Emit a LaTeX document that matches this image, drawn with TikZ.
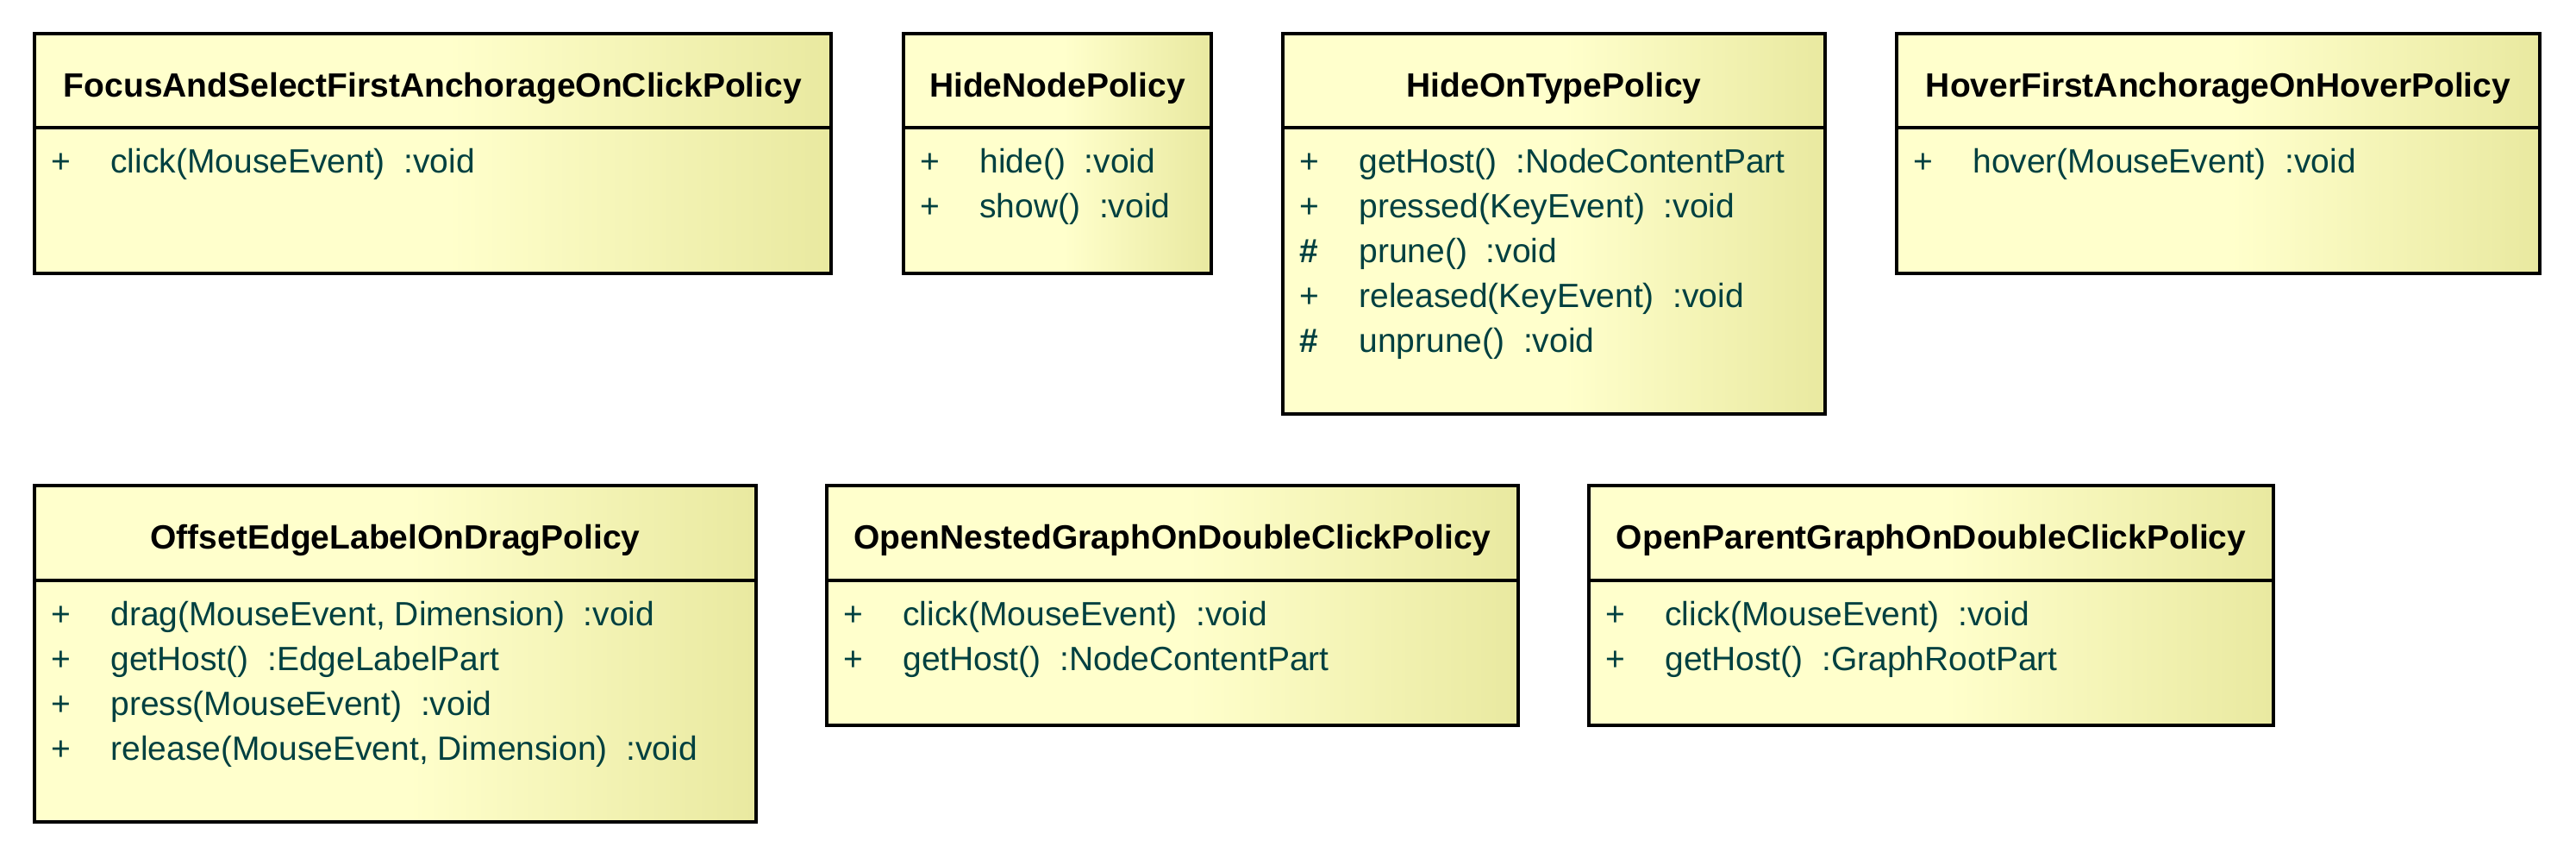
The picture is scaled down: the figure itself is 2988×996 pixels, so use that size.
\documentclass[tikz,border=0pt]{standalone}
\usepackage{fontspec}
\setmainfont{Liberation Sans}
\usepackage{array}
\usetikzlibrary{calc}

\definecolor{policyfill}{RGB}{255,255,204}
\definecolor{policyshade}{RGB}{233,233,160}
\definecolor{policytext}{RGB}{0,64,64}
\pgfdeclarehorizontalshading{policyshading}{100bp}{color(0bp)=(policyfill); color(25bp)=(policyfill); color(51bp)=(policyfill); color(75bp)=(policyshade); color(100bp)=(policyshade)}

\tikzset{
	policy fill/.style={shading=policyshading},
	policy line/.style={line width=1.6pt, draw=black},
	policy title/.style={anchor=base, inner sep=0pt, font=\fontsize{19.5}{26}\selectfont\bfseries},
	policy ops/.style={anchor=base west, inner sep=0pt, text=policytext, font=\fontsize{19.5}{26}\selectfont}
}

% #1 name, #2 left, #3 top, #4 right, #5 bottom, #6 separator, #7 title, #8 operations
\newcommand{\policybox}[8]{%
	\shade[policy fill] (#2, #3) rectangle (#4, #5);
	\node[policy title] (#1) at ({(#2+#4)/2}, #3+73) {#7};
	\node[policy ops] (#1-ops) at (#2+19, #6+52) {\begin{tabular}[t]{@{}p{34.5pt}@{}l@{}}#8\end{tabular}};
	\draw[policy line] (#2, #6) -- (#4, #6);
	\draw[policy line] (#2, #3) rectangle (#4, #5);
}

\begin{document}
\begin{tikzpicture}[x=0.5pt, y=-0.5pt]
		%%%%% START %%%%%
		
		\useasboundingbox (0, 0) rectangle (2988, 996);
		
		\policybox{focus}{40}{39}{964}{317}{148}{FocusAndSelectFirstAnchorageOnClickPolicy}{%
			+ & click(MouseEvent)~~:void}
		
		\policybox{hidenode}{1048}{39}{1405}{317}{148}{HideNodePolicy}{%
			+ & hide()~~:void\\
			+ & show()~~:void}
		
		\policybox{hideontype}{1488}{39}{2117}{480}{148}{HideOnTypePolicy}{%
			+ & getHost()~~:NodeContentPart\\
			+ & pressed(KeyEvent)~~:void\\
			\textbf{\#} & prune()~~:void\\
			+ & released(KeyEvent)~~:void\\
			\textbf{\#} & unprune()~~:void}
		
		\policybox{hover}{2200}{39}{2946}{317}{148}{HoverFirstAnchorageOnHoverPolicy}{%
			+ & hover(MouseEvent)~~:void}
		
		\policybox{offset}{40}{563}{877}{953}{673}{OffsetEdgeLabelOnDragPolicy}{%
			+ & drag(MouseEvent, Dimension)~~:void\\
			+ & getHost()~~:EdgeLabelPart\\
			+ & press(MouseEvent)~~:void\\
			+ & release(MouseEvent, Dimension)~~:void}
		
		\policybox{opennested}{959}{563}{1761}{841}{673}{OpenNestedGraphOnDoubleClickPolicy}{%
			+ & click(MouseEvent)~~:void\\
			+ & getHost()~~:NodeContentPart}
		
		\policybox{openparent}{1843}{563}{2637}{841}{673}{OpenParentGraphOnDoubleClickPolicy}{%
			+ & click(MouseEvent)~~:void\\
			+ & getHost()~~:GraphRootPart}
		
		%%%%% END %%%%%
\end{tikzpicture}
\end{document}
